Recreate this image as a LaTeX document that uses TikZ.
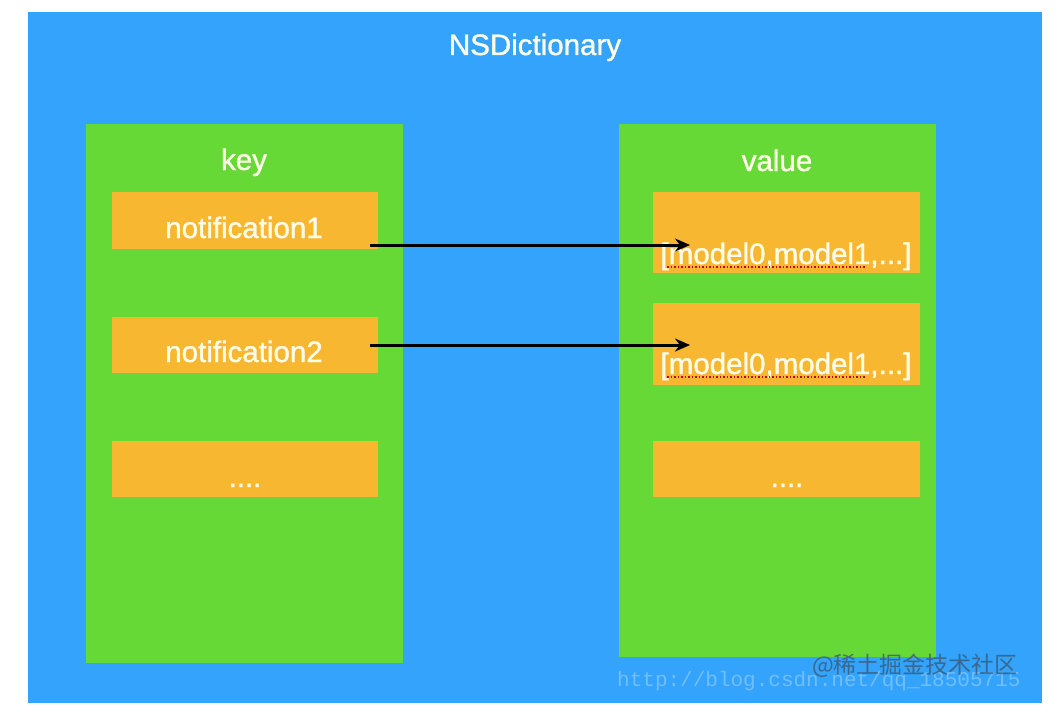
\documentclass[tikz,border=0pt]{standalone}
\usepackage{fontspec}
\setmainfont{Liberation Sans}[RawFeature={embolden=1.2}]
\newfontfamily\cjkfont{Noto Sans CJK SC}
\newfontfamily\wmmono{Liberation Mono}
\usetikzlibrary{arrows.meta}
\definecolor{bgblue}{HTML}{33A3FB}
\definecolor{boxgreen}{HTML}{66D936}
\definecolor{boxorange}{HTML}{F7B731}
\definecolor{txtwhite}{HTML}{FFFDE8}
\definecolor{wmdark}{HTML}{3A5A78}
\tikzset{
  lbl/.style={text=txtwhite, font=\fontsize{29.5}{35}\selectfont, inner sep=0pt, anchor=base},
  panel/.style={fill=boxgreen, draw=none},
  cell/.style={fill=boxorange, draw=none},
  link/.style={draw=black, line width=3pt, -{Stealth[length=15pt,width=13pt]}},
  squiggle/.style={draw=red!80!black, line width=1.5pt, dotted}
}
\begin{document}
\begin{tikzpicture}[x=1pt,y=-1pt]
\useasboundingbox (0,0) rectangle (1059,717);
\fill[white] (0,0) rectangle (1059,717);
\fill[bgblue] (28,12) rectangle (1042,703);
\node[lbl] (title) at (535,55) {NSDictionary};
% key panel
\path[panel] (86,124) rectangle (403,663);
\node[lbl] (keyh) at (244,170) {key};
\path[cell] (112,192) rectangle (378,249);
\path[cell] (112,317) rectangle (378,373);
\path[cell] (112,441) rectangle (378,497);
\node[lbl] (k1) at (244,238) {notification1};
\node[lbl] (k2) at (244,362) {notification2};
\node[lbl] (k3) at (245,487) {....};
% value panel
\path[panel] (619,124) rectangle (936,657);
\node[lbl] (valh) at (777,171) {value};
\path[cell] (653,192) rectangle (920,273);
\path[cell] (653,303) rectangle (920,385);
\path[cell] (653,441) rectangle (920,497);
\node[lbl] (v1) at (786,264) {[model0,model1,...]};
\node[lbl] (v2) at (786,374) {[model0,model1,...]};
\node[lbl] (v3) at (787,487) {....};
\draw[squiggle] (667,267) -- (866,267);
\draw[squiggle] (667,377) -- (866,377);
% arrows
\coordinate (s1) at (370,245);
\coordinate (e1) at (690,245);
\coordinate (s2) at (370,345);
\coordinate (e2) at (690,345);
\draw[link] (s1) -- (e1);
\draw[link] (s2) -- (e2);
% watermarks
\node[text=white, opacity=0.3, font=\wmmono\fontsize{21}{24}\selectfont, inner sep=0pt, anchor=base west] (wm1) at (617,686) {http://blog.csdn.net/qq\_18505715};
\node[text=wmdark, opacity=0.8, font=\cjkfont\fontsize{23}{26}\selectfont, inner sep=0pt, anchor=base west] (wm2) at (812,673) {@稀土掘金技术社区};
\end{tikzpicture}
\end{document}
